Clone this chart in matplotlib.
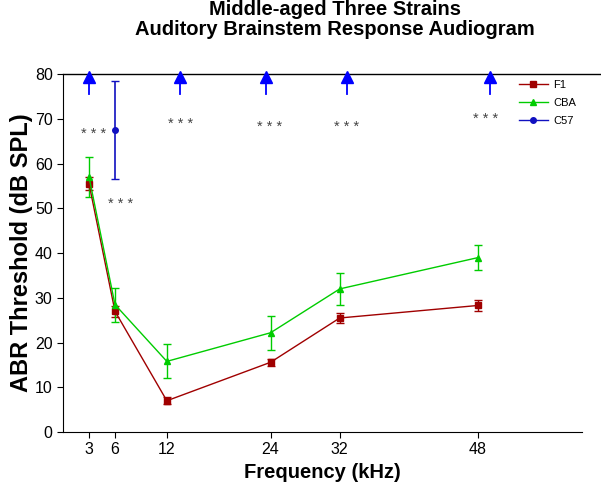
import matplotlib
matplotlib.use('Agg')
import matplotlib.pyplot as plt
from matplotlib.lines import Line2D

plt.rcParams['font.family'] = ['Liberation Sans', 'DejaVu Sans']

freqs = [3, 6, 12, 24, 32, 48]

f1_mean = [55.5, 27.0, 7.0, 15.6, 25.5, 28.3]
f1_err = [1.5, 1.2, 0.8, 0.8, 1.2, 1.2]

cba_mean = [57.0, 28.5, 15.8, 22.2, 32.0, 39.0]
cba_err = [4.5, 3.8, 3.8, 3.8, 3.5, 2.8]

# C57 only measurable at 6 kHz, the rest are at the ceiling
c57_freq = [6]
c57_mean = [67.5]
c57_err = [11.0]
c57_ceiling_freq = [3, 13.5, 23.5, 32.8, 49.4]
c57_ceiling = [79.3, 79.3, 79.3, 79.3, 79.3]

# significance marks
star_x = [3.5, 6.6, 13.6, 23.9, 32.8, 48.9]
star_y = [67.3, 51.6, 69.5, 68.8, 68.8, 70.6]

f1_col = '#A00000'
cba_col = '#00CC00'
c57_col = '#1010C0'

fig = plt.figure(figsize=(6.01, 4.91), dpi=100)
ax = fig.add_axes([0.105, 0.12, 0.863, 0.729])

ax.errorbar(freqs, f1_mean, yerr=f1_err, color=f1_col, marker='s', ms=4,
            lw=1, capsize=3, elinewidth=1)
ax.errorbar(freqs, cba_mean, yerr=cba_err, color=cba_col, marker='^', ms=4,
            lw=1, capsize=3, elinewidth=1)
ax.errorbar(c57_freq, c57_mean, yerr=c57_err, color=c57_col, marker='o', ms=4,
            lw=1, capsize=3, elinewidth=1.2)

# ceiling arrows
for x, y in zip(c57_ceiling_freq, c57_ceiling):
    ax.plot([x, x], [y - 3.8, y], color='#0000FF', lw=1.3, clip_on=False)
ax.plot(c57_ceiling_freq, c57_ceiling, ls='none', marker='^', ms=9,
        color='#0000FF', clip_on=False, zorder=5)

# asterisk glyph sits high in its box, so nudge it down a bit
for x, y in zip(star_x, star_y):
    ax.text(x, y - 0.7, '* * *', ha='center', va='center', fontsize=10.5,
            color='#444444')

ax.set_xlim(0, 60)
ax.set_ylim(0, 80)
ax.set_xticks(freqs)
ax.set_yticks(range(0, 81, 10))
ax.tick_params(labelsize=11.5, direction='out', length=4)
ax.spines['right'].set_visible(False)
ax.spines['top'].set_visible(False)
ax.axhline(80, xmin=0, xmax=1.035, color='black', lw=1, clip_on=False)

ax.set_xlabel('Frequency (kHz)', fontsize=14.5, fontweight='bold')
ax.set_ylabel('ABR Threshold (dB SPL)', fontsize=17, fontweight='bold', labelpad=1)
fig.suptitle('Middle-aged Three Strains\nAuditory Brainstem Response Audiogram',
             x=0.557, y=1.0, fontsize=14.5, fontweight='bold', linespacing=1.05)

handles = [
    Line2D([], [], color=f1_col, marker='s', ms=4, lw=1),
    Line2D([], [], color=cba_col, marker='^', ms=4, lw=1),
    Line2D([], [], color=c57_col, marker='o', ms=4, lw=1),
]
fig.legend(handles, ['F1', 'CBA', 'C57'], loc='upper left',
           bbox_to_anchor=(0.8636, 0.838), frameon=False, fontsize=8,
           handlelength=2.6, handletextpad=0.45, labelspacing=0.72,
           borderpad=0, borderaxespad=0)

fig.savefig('out.png', dpi=100)
